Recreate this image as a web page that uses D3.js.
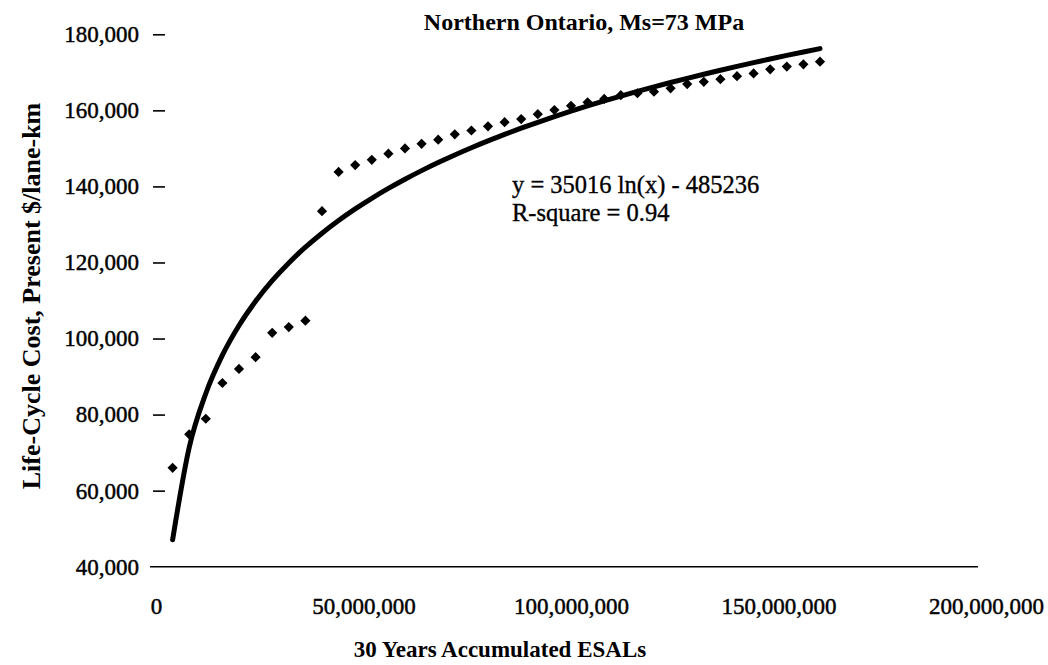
<!DOCTYPE html>
<html>
<head>
<meta charset="utf-8">
<script src="https://cdn.jsdelivr.net/npm/d3@7"></script>
<style>
  body { margin: 0; background: #fff; }
  svg { display: block; font-family: "Liberation Serif", "Times New Roman", serif; }
  .axis { font-family: "Liberation Serif", "Times New Roman", serif; }
  .axis .tick text { font-size: 23px; fill: #000; stroke: #000; stroke-width: 0.45px; }
  .axis-title { font-size: 23px; font-weight: bold; }
  .y-title { font-size: 26px; font-weight: bold; }
  .title { font-size: 24px; font-weight: bold; }
  .eq { font-size: 24.5px; stroke: #000; stroke-width: 0.35px; }
</style>
</head>
<body>
<div id="chart"></div>
<script>
var width = 1048, height = 665;

// 30 years accumulated ESALs
var esals = [
  4e6, 8e6, 12e6, 16e6, 20e6, 24e6, 28e6, 32e6, 36e6, 40e6,
  44e6, 48e6, 52e6, 56e6, 60e6, 64e6, 68e6, 72e6, 76e6, 80e6,
  84e6, 88e6, 92e6, 96e6, 100e6, 104e6, 108e6, 112e6, 116e6, 120e6,
  124e6, 128e6, 132e6, 136e6, 140e6, 144e6, 148e6, 152e6, 156e6, 160e6
];
// life-cycle cost, present $/lane-km
var cost = [
  66000, 74800, 78900, 88300, 92000, 95100, 101500, 103000, 104700, 133500,
  143800, 145600, 147000, 148600, 150000, 151200, 152300, 153700, 154700, 155800,
  156900, 157700, 159000, 160100, 161200, 162100, 163000, 164000, 164500, 164900,
  165800, 166900, 167500, 168200, 169000, 169700, 170800, 171500, 172100, 172800
];
var yTicks = [40000, 60000, 80000, 100000, 120000, 140000, 160000, 180000];
var xTicks = [0, 50000000, 100000000, 150000000, 200000000];

// log trendline from the chart: y = 35016 ln(x) - 485236
var fitA = 35016, fitB = -485236, rSquare = 0.94;

var svg = d3.select("#chart").append("svg")
  .attr("width", width)
  .attr("height", height);

var x = d3.scaleLinear()
  .domain([0, 200000000])
  .range([156, 986]);

var y = d3.scaleLinear()
  .domain([40000, 180000])
  .range([566.7, 34.3]);

var fmt = d3.format(",");

// x axis
var xAxis = svg.append("g")
  .attr("class", "x axis")
  .attr("transform", "translate(0," + y(40000) + ")")
  .call(d3.axisBottom(x).tickValues(xTicks).tickFormat(fmt)
    .tickSize(0).tickPadding(31));
xAxis.select(".domain")
  .attr("stroke", "#000")
  .attr("stroke-width", 1.6)
  .attr("d", "M" + (x(0) - 6) + ",0H" + (x(200000000) - 8));

// y axis, cross ticks only
var yAxis = svg.append("g")
  .attr("class", "y axis")
  .attr("transform", "translate(" + x(0) + ",0)")
  .call(d3.axisLeft(y).tickValues(yTicks).tickFormat(fmt)
    .tickSize(0).tickPadding(17));
yAxis.select(".domain").remove();
yAxis.selectAll(".tick").filter(function(d) { return d > 40000; })
  .append("line")
  .attr("x1", -3)
  .attr("x2", 9)
  .attr("stroke", "#000")
  .attr("stroke-width", 1.6);

// trendline
var fit = d3.line()
  .x(function(d) { return x(d); })
  .y(function(d) { return y(fitA * Math.log(d) + fitB); })
  .curve(d3.curveMonotoneX);

svg.append("path")
  .datum(esals)
  .attr("fill", "none")
  .attr("stroke", "#000")
  .attr("stroke-width", 5)
  .attr("stroke-linecap", "round")
  .attr("d", fit);

// data points (diamonds)
var diamond = d3.symbol().type(d3.symbolSquare).size(52);

svg.selectAll(".pt")
  .data(esals)
  .enter().append("path")
    .attr("class", "pt")
    .attr("transform", function(d, i) {
      return "translate(" + x(d) + "," + y(cost[i]) + ") rotate(45)";
    })
    .attr("d", diamond)
    .attr("fill", "#000");

// texts
svg.append("text")
  .attr("class", "title")
  .attr("x", 584)
  .attr("y", 30)
  .attr("text-anchor", "middle")
  .text("Northern Ontario, Ms=73 MPa");

svg.append("text")
  .attr("class", "eq")
  .attr("x", 512)
  .attr("y", 193)
  .text("y = " + fitA + " ln(x) - " + (-fitB));

svg.append("text")
  .attr("class", "eq")
  .attr("x", 512)
  .attr("y", 221)
  .text("R-square = " + rSquare);

svg.append("text")
  .attr("class", "axis-title")
  .attr("x", 500)
  .attr("y", 657)
  .attr("text-anchor", "middle")
  .text("30 Years Accumulated ESALs");

svg.append("text")
  .attr("class", "y-title")
  .attr("transform", "translate(40,296) rotate(-90)")
  .attr("text-anchor", "middle")
  .text("Life-Cycle Cost, Present $/lane-km");
</script>
</body>
</html>
